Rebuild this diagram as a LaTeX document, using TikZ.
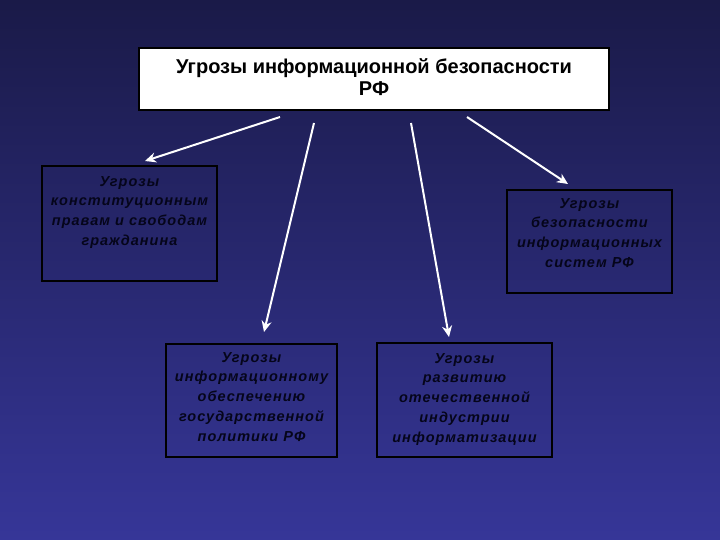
\documentclass[tikz,border=0pt]{standalone}
\usepackage{fontspec}
\setmainfont{Liberation Sans}
\newfontfamily\boxfont[LetterSpace=7]{Liberation Sans}
\usetikzlibrary{arrows.meta}
\definecolor{bgtop}{HTML}{1A1A48}
\definecolor{bgbot}{HTML}{363698}
\definecolor{txt}{HTML}{05051A}
\tikzset{
  titlebox/.style={draw=black, line width=2pt, fill=white, inner sep=0pt},
  subbox/.style={draw=black, line width=1.8pt, inner sep=0pt},
  subtext/.style={anchor=north, inner sep=0pt, align=center, text=txt,
    font=\boxfont\bfseries\itshape\fontsize{14.5}{19.7}\selectfont},
  arr/.style={draw=white, line width=2pt, -{Stealth[length=11pt,width=10pt,inset=3.5pt]}}
}
\begin{document}
\begin{tikzpicture}[x=1pt,y=-1pt]
\shade[top color=bgtop,bottom color=bgbot] (0,0) rectangle (720,540);
\useasboundingbox (0,0) rectangle (720,540);

\node[titlebox, minimum width=470pt, minimum height=62pt] (top) at (374,79) {};
\node[align=center, inner sep=0pt, font=\bfseries\fontsize{20}{22}\selectfont] (toptext) at (374,77) {Угрозы информационной безопасности\\РФ};

\node[subbox, minimum width=175pt, minimum height=115pt] (left) at (129.5,223.5) {};
\node[subtext] (lefttext) at ([yshift=-11pt]left.north) {Угрозы\\конституционным\\правам и свободам\\гражданина};

\node[subbox, minimum width=165pt, minimum height=103pt] (right) at (589.5,241.5) {};
\node[subtext] (righttext) at ([yshift=-9pt]right.north) {Угрозы\\безопасности\\информационных\\систем РФ};

\node[subbox, minimum width=171pt, minimum height=113pt] (bl) at (251.5,400.5) {};
\node[subtext] (bltext) at ([yshift=-9pt]bl.north) {Угрозы\\информационному\\обеспечению\\государственной\\политики РФ};

\node[subbox, minimum width=175pt, minimum height=114pt] (br) at (464.5,400) {};
\node[subtext] (brtext) at ([yshift=-11pt]br.north) {Угрозы\\развитию\\отечественной\\индустрии\\информатизации};

\coordinate (s1) at (280,117);
\coordinate (e1) at (145,161);
\coordinate (s2) at (314,123);
\coordinate (e2) at (264,332);
\coordinate (s3) at (411,123);
\coordinate (e3) at (449,337);
\coordinate (s4) at (467,117);
\coordinate (e4) at (568,184);
\draw[arr] (s1) -- (e1);
\draw[arr] (s2) -- (e2);
\draw[arr] (s3) -- (e3);
\draw[arr] (s4) -- (e4);
\end{tikzpicture}
\end{document}
